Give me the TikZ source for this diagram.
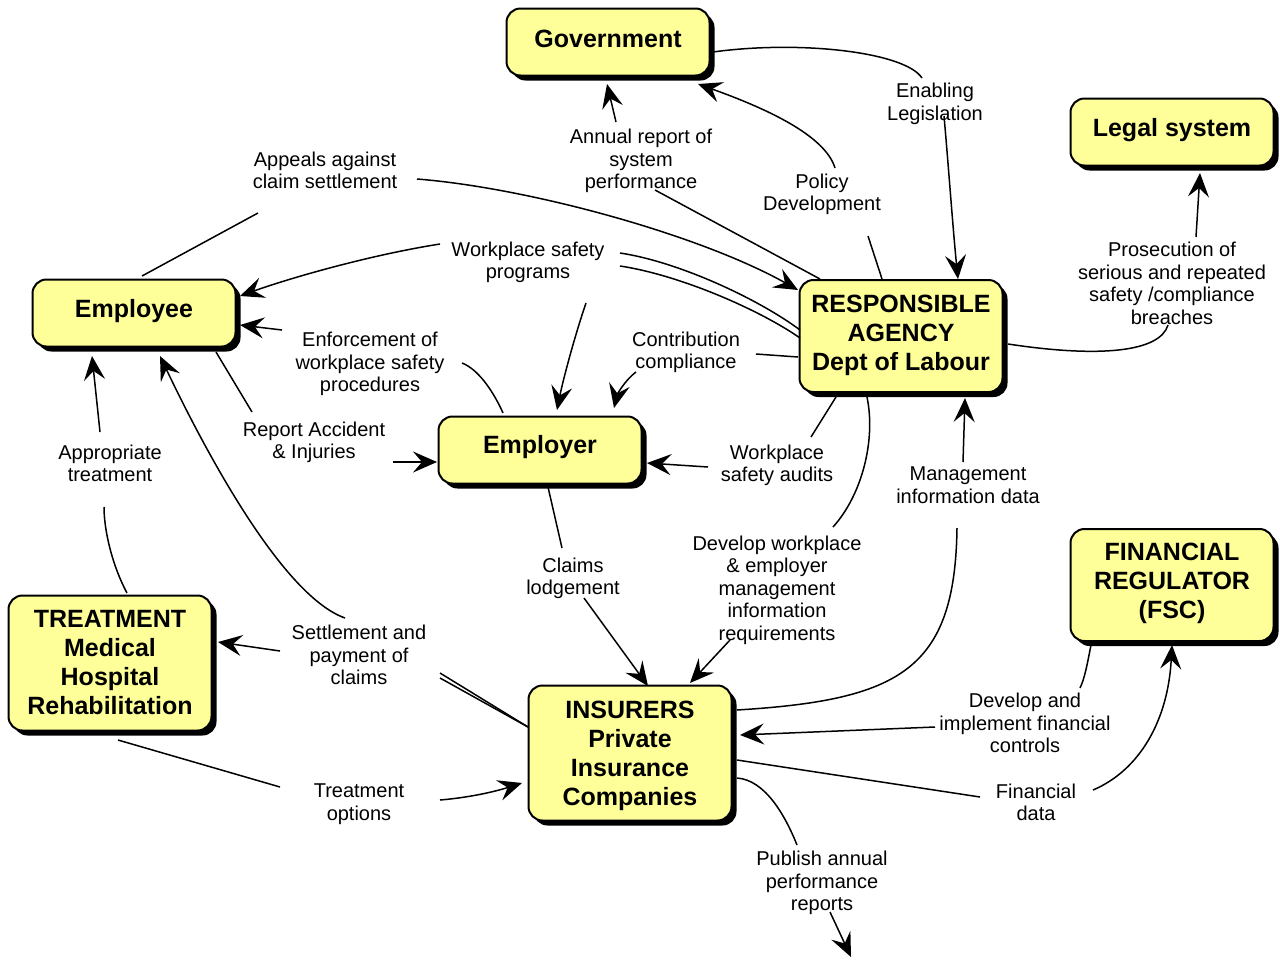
\documentclass[tikz,border=0pt]{standalone}
\usepackage{fontspec}
\setmainfont{Liberation Sans}
\usetikzlibrary{arrows.meta,shadows}
\definecolor{boxyellow}{HTML}{FFFF99}
\tikzset{
 box/.style={draw=black, line width=2pt, fill=boxyellow, rounded corners=14pt, minimum width=203pt, align=center,
   font=\bfseries\fontsize{25}{29}\selectfont,
   drop shadow={shadow xshift=5pt, shadow yshift=-5pt, fill=black, opacity=1}},
 lbl/.style={align=center, inner sep=0pt, text depth=0pt, font=\fontsize{20}{22.5}\selectfont},
 link/.style={line width=1.5pt},
 flow/.style={link, -{Stealth[length=24pt,width=21pt,inset=9pt]}},
}
\begin{document}
\begin{tikzpicture}[x=1pt,y=-1pt]
\useasboundingbox (0,0) rectangle (1280,959);
% boxes
\node[box,minimum height=67pt,text depth=7pt] (gov) at (608,42) {Government};
\node[box,minimum height=67pt,text depth=9pt] (legal) at (1172,132) {Legal system};
\node[box,minimum height=67pt,text depth=9pt] (emp) at (134,313) {Employee};
\node[box,minimum height=112pt,text depth=6pt] (agency) at (901,336) {RESPONSIBLE\\AGENCY\\Dept of Labour};
\node[box,minimum height=67pt,text depth=12pt] (employer) at (540,450) {Employer};
\node[box,minimum height=112pt,text depth=8pt] (fsc) at (1172,585) {FINANCIAL\\REGULATOR\\(FSC)};
\node[box,minimum height=135pt] (treat) at (110,663) {TREATMENT\\Medical\\Hospital\\Rehabilitation};
\node[box,minimum height=135pt,text depth=0pt] (ins) at (630,753) {INSURERS\\Private\\Insurance\\Companies};
% labels
\node[lbl] (enab) at (935,102) {Enabling\\Legislation};
\node[lbl] (annual) at (641,159) {Annual report of\\system\\performance};
\node[lbl] (policy) at (822,192) {Policy\\Development};
\node[lbl] (appeals) at (325,170) {Appeals against\\claim settlement};
\node[lbl] (wsp) at (528,260) {Workplace safety\\programs};
\node[lbl] (prosec) at (1172,283) {Prosecution of\\serious and repeated\\safety /compliance\\breaches};
\node[lbl] (enforce) at (370,362) {Enforcement of\\workplace safety\\procedures};
\node[lbl] (contrib) at (686,350) {Contribution\\compliance};
\node[lbl] (report) at (314,440) {Report Accident\\\& Injuries};
\node[lbl] (approp) at (110,463) {Appropriate\\treatment};
\node[lbl] (audits) at (777,463) {Workplace\\safety audits};
\node[lbl] (mgmt) at (968,485) {Management\\information data};
\node[lbl] (claims) at (573,576) {Claims\\lodgement};
\node[lbl] (develop) at (777,588) {Develop workplace\\\& employer\\management\\information\\requirements};
\node[lbl] (settle) at (359,655) {Settlement and\\payment of\\claims};
\node[lbl] (devfin) at (1025,723) {Develop and\\implement financial\\controls};
\node[lbl] (topt) at (359,802) {Treatment\\options};
\node[lbl] (findata) at (1036,802) {Financial\\data};
\node[lbl] (publish) at (822,881) {Publish annual\\performance\\reports};
\coordinate (pubend) at (851,957);
% connectors
\draw[link] ([shift={(105,10)}]gov.center) .. controls (800,40) and (905,52) .. ([shift={(-13,-24)}]enab.center);
\draw[flow] ([shift={(9,14)}]enab.center) .. controls (948,160) and (953,230) .. ([shift={(57,-57)}]agency.center);
\draw[link] ([shift={(-19,-57)}]agency.center) -- ([shift={(46,44)}]policy.center);
\draw[flow] ([shift={(13,-24)}]policy.center) .. controls (825,135) and (765,108) .. ([shift={(90,42)}]gov.center);
\draw[link] ([shift={(-81,-57)}]agency.center) -- ([shift={(14,31)}]annual.center);
\draw[flow] ([shift={(-25,-37)}]annual.center) -- ([shift={(-1,42)}]gov.center);
\draw[link] ([shift={(8,-37)}]emp.center) -- ([shift={(-67,43)}]appeals.center);
\draw[flow] ([shift={(92,9)}]appeals.center) .. controls (530,188) and (700,235) .. ([shift={(-103,-46)}]agency.center);
\draw[link] ([shift={(-101,-6)}]agency.center) .. controls (760,300) and (680,262) .. ([shift={(92,-7)}]wsp.center);
\draw[link] ([shift={(-101,2)}]agency.center) .. controls (760,310) and (680,275) .. ([shift={(92,6)}]wsp.center);
\draw[flow] ([shift={(-88,-16)}]wsp.center) .. controls (370,255) and (290,278) .. ([shift={(106,-17)}]emp.center);
\draw[flow] ([shift={(58,43)}]wsp.center) .. controls (575,335) and (563,380) .. ([shift={(17,-40)}]employer.center);
\draw[link] ([shift={(-103,21)}]agency.center) -- ([shift={(70,4)}]contrib.center);
\draw[flow] ([shift={(-50,22)}]contrib.center) .. controls (625,380) and (617,395) .. ([shift={(74,-42)}]employer.center);
\draw[link] ([shift={(-37,-37)}]employer.center) .. controls (495,395) and (480,370) .. ([shift={(92,1)}]enforce.center);
\draw[flow] ([shift={(-88,-32)}]enforce.center) -- ([shift={(106,12)}]emp.center);
\draw[link] ([shift={(82,39)}]emp.center) -- ([shift={(-62,-28)}]report.center);
\draw[flow] ([shift={(79,22)}]report.center) -- ([shift={(-103,12)}]employer.center);
\draw[link] ([shift={(-65,61)}]agency.center) -- ([shift={(34,-26)}]audits.center);
\draw[flow] ([shift={(-69,4)}]audits.center) -- ([shift={(107,13)}]employer.center);
\draw[link] ([shift={(-34,61)}]agency.center) .. controls (876,440) and (862,495) .. ([shift={(56,-61)}]develop.center);
\draw[flow] ([shift={(-47,52)}]develop.center) -- ([shift={(60,-70)}]ins.center);
\draw[link] ([shift={(107,-43)}]ins.center) .. controls (900,700) and (955,670) .. ([shift={(-11,43)}]mgmt.center);
\draw[flow] ([shift={(-5,-23)}]mgmt.center) -- ([shift={(64,62)}]agency.center);
\draw[link] ([shift={(8,37)}]employer.center) -- ([shift={(-11,-28)}]claims.center);
\draw[flow] ([shift={(11,22)}]claims.center) -- ([shift={(18,-67)}]ins.center);
\draw[link] ([shift={(-102,-26)}]ins.center) -- ([shift={(81,18)}]settle.center);
\draw[link] ([shift={(-102,-26)}]ins.center) -- ([shift={(81,23)}]settle.center);
\draw[flow] ([shift={(-79,-4)}]settle.center) -- ([shift={(108,-21)}]treat.center);
\draw[flow] ([shift={(-14,-37)}]settle.center) .. controls (280,595) and (200,440) .. ([shift={(26,43)}]emp.center);
\draw[link] ([shift={(17,-70)}]treat.center) .. controls (112,565) and (104,530) .. ([shift={(-6,44)}]approp.center);
\draw[flow] ([shift={(-10,-31)}]approp.center) -- ([shift={(-42,43)}]emp.center);
\draw[link] ([shift={(8,77)}]treat.center) -- ([shift={(-79,-15)}]topt.center);
\draw[flow] ([shift={(81,-2)}]topt.center) .. controls (475,797) and (500,790) .. ([shift={(-108,30)}]ins.center);
\draw[link] ([shift={(-81,60)}]fsc.center) .. controls (1088,660) and (1085,678) .. ([shift={(55,-35)}]devfin.center);
\draw[flow] ([shift={(-90,4)}]devfin.center) -- ([shift={(110,-18)}]ins.center);
\draw[link] ([shift={(107,7)}]ins.center) -- ([shift={(-56,-5)}]findata.center);
\draw[flow] ([shift={(57,-12)}]findata.center) .. controls (1140,770) and (1168,720) .. ([shift={(0,60)}]fsc.center);
\draw[link] ([shift={(107,25)}]ins.center) .. controls (765,780) and (785,815) .. ([shift={(-25,-36)}]publish.center);
\draw[flow] ([shift={(8,31)}]publish.center) -- (pubend);
\draw[link] ([shift={(107,8)}]agency.center) .. controls (1100,358) and (1160,352) .. ([shift={(-4,42)}]prosec.center);
\draw[flow] ([shift={(24,-46)}]prosec.center) -- ([shift={(28,41)}]legal.center);
\end{tikzpicture}
\end{document}
